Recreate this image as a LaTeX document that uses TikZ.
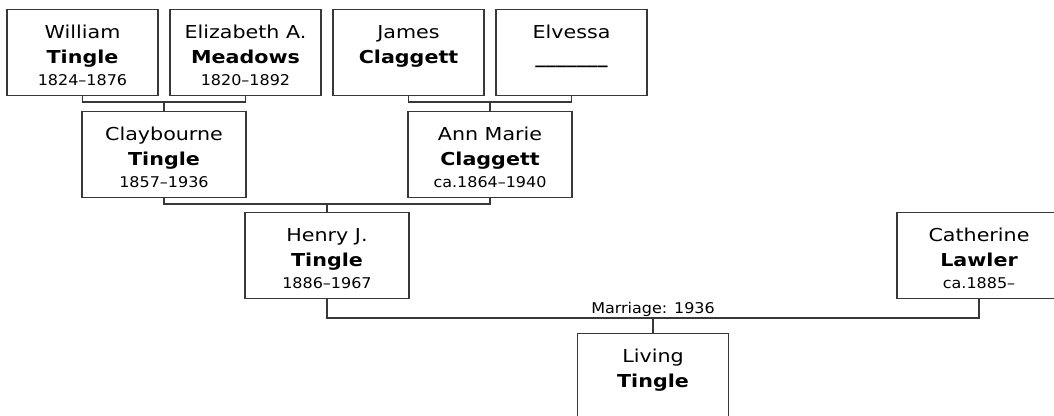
\documentclass[tikz,border=0pt]{standalone}
\usepackage{fontspec}
\setmainfont{DejaVu Sans}
\newfontfamily\namefont[FakeStretch=1.16]{DejaVu Sans}
\newfontfamily\smallfont[FakeStretch=1.08]{DejaVu Sans}
\begin{document}
\begin{tikzpicture}[x=1pt,y=-1pt,
  box/.style={draw=black!78,line width=1.3pt,fill=white,rectangle,minimum height=86pt,inner sep=0pt,anchor=north},
  wide/.style={minimum width=164pt},
  narrow/.style={minimum width=151pt},
  conn/.style={draw=black!78,line width=1.3pt},
  ln/.style={anchor=base,inner sep=0pt,font=\namefont\fontsize{17.8}{20}\selectfont},
  bn/.style={anchor=base,inner sep=0pt,font=\namefont\bfseries\fontsize{17.8}{20}\selectfont},
  dn/.style={anchor=base,inner sep=0pt,font=\smallfont\fontsize{14.8}{17}\selectfont},
  lab/.style={anchor=base,inner sep=0pt,font=\smallfont\fontsize{14.8}{17}\selectfont}]
\useasboundingbox (0,0) rectangle (1054,415);
\clip (0,0) rectangle (1054,415);
\newcommand\personbox[7]{%
  \node[box,#7] (#1) at (#2,#3) {};
  \node[ln] (#1-a) at (#2,{#3+29}) {#4};
  \node[bn] (#1-b) at (#2,{#3+54.5}) {#5};
  \node[dn] (#1-c) at (#2,{#3+76}) {#6};
}
% row 1
\personbox{wt}{82.5}{9}{William}{Tingle}{1824–1876}{narrow}
\personbox{em}{245.5}{9}{Elizabeth A.}{Meadows}{1820–1892}{narrow}
\personbox{jc}{408.5}{9}{James}{Claggett}{}{narrow}
\personbox{el}{571.5}{9}{Elvessa}{\_\_\_\_\_\_\_}{}{narrow}
% row 2
\personbox{ct}{164}{111}{Claybourne}{Tingle}{1857–1936}{wide}
\personbox{ac}{490}{111}{Ann Marie}{Claggett}{ca.1864–1940}{wide}
% row 3
\personbox{ht}{327}{212}{Henry J.}{Tingle}{1886–1967}{wide}
\personbox{cl}{979}{212}{Catherine}{Lawler}{ca.1885–}{wide}
% row 4
\personbox{lt}{653}{333}{Living}{Tingle}{}{narrow}
% connectors
\coordinate (j1) at (164,102);
\coordinate (j2) at (490,102);
\coordinate (j3) at (327,204);
\coordinate (j4) at (653,318);
\draw[conn] (wt.south) |- (j1) -| (em.south);
\draw[conn] (j1) -- (ct.north);
\draw[conn] (jc.south) |- (j2) -| (el.south);
\draw[conn] (j2) -- (ac.north);
\draw[conn] (ct.south) |- (j3) -| (ac.south);
\draw[conn] (j3) -- (ht.north);
\draw[conn] (ht.south) |- (j4) -| (cl.south);
\draw[conn] (j4) -- (lt.north);
\node[lab] (mar) at (653,313) {Marriage: 1936};
\end{tikzpicture}
\end{document}
